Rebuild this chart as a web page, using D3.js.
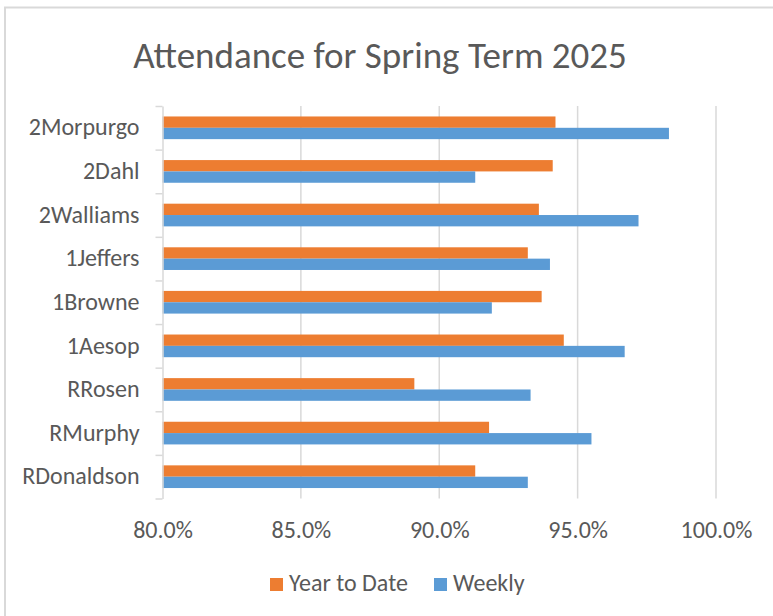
<!DOCTYPE html>
<html>
<head>
<meta charset="utf-8">
<script src="https://cdn.jsdelivr.net/npm/d3@7"></script>
<style>
  body { margin: 0; background: #fff; }
  svg text { font-family: Carlito, Calibri, Lato, sans-serif; fill: #595959; }
</style>
</head>
<body>
<script>
// Chart data (top to bottom as shown)
var classes = ["2Morpurgo", "2Dahl", "2Walliams", "1Jeffers", "1Browne", "1Aesop", "RRosen", "RMurphy", "RDonaldson"];
var yearToDate = [0.942, 0.941, 0.936, 0.932, 0.937, 0.945, 0.891, 0.918, 0.913];
var weekly = [0.983, 0.913, 0.972, 0.940, 0.919, 0.967, 0.933, 0.955, 0.932];
var seriesNames = ["Year to Date", "Weekly"];
var seriesColors = ["#ED7D31", "#5B9BD5"];
var xTicks = [0.80, 0.85, 0.90, 0.95, 1.00];

var svgWidth = 773;
var svgHeight = 616;

var chartMargin = { top: 106, right: 57, bottom: 117.5, left: 162.5 };
var chartWidth = svgWidth - chartMargin.left - chartMargin.right;
var chartHeight = svgHeight - chartMargin.top - chartMargin.bottom;

var svg = d3.select("body")
  .append("svg")
  .attr("width", svgWidth)
  .attr("height", svgHeight);

// outer chart border
svg.append("rect")
  .attr("x", 5)
  .attr("y", 7.5)
  .attr("width", 800)
  .attr("height", 700)
  .attr("fill", "#fff")
  .attr("stroke", "#d9d9d9")
  .attr("stroke-width", 2);

svg.append("text")
  .attr("x", 380)
  .attr("y", 68)
  .attr("text-anchor", "middle")
  .style("font-size", "37px")
  .text("Attendance for Spring Term 2025");

var chartGroup = svg.append("g")
  .attr("transform", `translate(${chartMargin.left}, ${chartMargin.top})`);

var xScale = d3.scaleLinear()
  .domain([0.8, 1.0])
  .range([0, chartWidth]);

var yBand = d3.scaleBand()
  .domain(classes)
  .range([0, chartHeight])
  .paddingInner(0.48)
  .paddingOuter(0.24);

var ySeries = d3.scaleBand()
  .domain(seriesNames)
  .range([0, yBand.bandwidth()]);

// gridlines
chartGroup.append("g")
  .selectAll("line")
  .data(xTicks.slice(1))
  .enter()
  .append("line")
  .attr("x1", d => xScale(d))
  .attr("x2", d => xScale(d))
  .attr("y1", 0)
  .attr("y2", chartHeight)
  .attr("stroke", "#d9d9d9")
  .attr("stroke-width", 1.5);

// bars
var rows = classes.map(function(c, i) {
  return { name: c, values: [yearToDate[i], weekly[i]] };
});

var groups = chartGroup.selectAll(".row")
  .data(rows)
  .enter()
  .append("g")
  .attr("transform", d => `translate(0, ${yBand(d.name)})`);

groups.selectAll("rect")
  .data(d => d.values.map((v, j) => ({ series: seriesNames[j], value: v, color: seriesColors[j] })))
  .enter()
  .append("rect")
  .attr("x", xScale(0.8))
  .attr("y", d => ySeries(d.series))
  .attr("width", d => xScale(d.value) - xScale(0.8))
  .attr("height", ySeries.bandwidth())
  .attr("fill", d => d.color);

// left axis line with ticks at category boundaries
var edgeScale = d3.scaleLinear().domain([0, classes.length]).range([0, chartHeight]);
var leftTicks = chartGroup.append("g")
  .call(d3.axisLeft(edgeScale).ticks(classes.length).tickSize(7).tickSizeOuter(0).tickFormat(""));
leftTicks.selectAll("path, line").attr("stroke", "#d9d9d9").attr("stroke-width", 1.5);

// category labels
var leftLabels = chartGroup.append("g")
  .call(d3.axisLeft(yBand).tickSize(0).tickPadding(23));
leftLabels.select(".domain").remove();
leftLabels.selectAll("text").style("font-size", "24px").attr("fill", "#595959");

// bottom labels
var bottomAxis = chartGroup.append("g")
  .attr("transform", `translate(0, ${chartHeight})`)
  .call(d3.axisBottom(xScale).tickValues(xTicks).tickFormat(d3.format(".1%")).tickSize(0).tickPadding(22));
bottomAxis.select(".domain").remove();
bottomAxis.selectAll("text").style("font-size", "24px").attr("fill", "#595959");

// legend
var legend = svg.append("g").attr("transform", "translate(270, 578)");
var legendX = [0, 164];
seriesNames.forEach(function(name, i) {
  var item = legend.append("g").attr("transform", `translate(${legendX[i]}, 0)`);
  item.append("rect")
    .attr("width", 13)
    .attr("height", 13)
    .attr("fill", seriesColors[i]);
  item.append("text")
    .attr("x", 19)
    .attr("y", 13)
    .style("font-size", "24px")
    .text(name);
});
</script>
</body>
</html>
